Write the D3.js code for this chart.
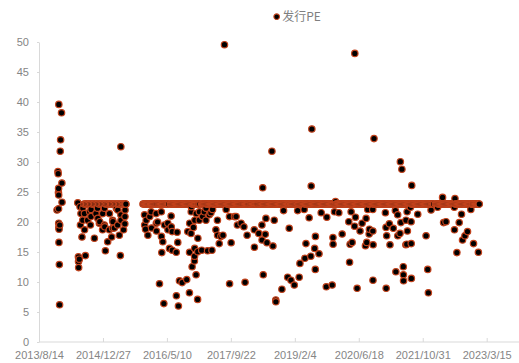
<!DOCTYPE html>
<html><head><meta charset="utf-8">
<script src="https://cdn.jsdelivr.net/npm/d3@7/dist/d3.min.js"></script>
<style>body{margin:0;background:#fff}svg{display:block}</style>
</head><body><svg id="c" width="519" height="363"></svg>
<script>
// ---- data ----
const seriesName = "发行PE";
const xTickLabels = ["2013/8/14","2014/12/27","2016/5/10","2017/9/22","2019/2/4","2020/6/18","2021/10/31","2023/3/15"];
const yTickValues = [0,5,10,15,20,25,30,35,40,45,50];
const capPE = 22.99;
// issues priced at the ~23x cap (month, days)
const capIssueDays = [
 ["2014-08",[1,11,21]],["2014-09",[1,11,22]],["2014-10",[2,13,23]],["2014-11",[3,13,24]],["2014-12",[4,15,25]],
 ["2015-01",[5,15,26]],["2015-02",[4,14,25]],["2015-03",[5,16,26]],["2015-04",[6,16,27]],["2015-05",[7,18,28]],["2015-06",[8,16,24]],
 ["2015-11",[5,12,19,26]],["2015-12",[3,10,17,24,30]],
 ["2016-01",[4,11,18,25]],["2016-02",[1,8,15,22]],["2016-03",[2,9,16,23,30]],["2016-04",[5,12,19,26]],["2016-05",[3,10,17,24]],["2016-06",[6,13,20,27]],
 ["2016-07",[4,11,18,25]],["2016-08",[1,8,15,22,29]],["2016-09",[5,12,19,26]],["2016-10",[3,10,17,24,31]],["2016-11",[7,14,21,28]],["2016-12",[5,12,19,26]],
 ["2017-01",[3,9,16,23]],["2017-02",[6,13,20,27]],["2017-03",[6,13,20,27]],["2017-04",[3,10,17,24]],["2017-05",[2,9,16,23,30]],["2017-06",[5,12,19,26]],
 ["2017-07",[3,10,17,24,31]],["2017-08",[7,14,21,28]],["2017-09",[4,11,18,25]],["2017-10",[2,9,16,23,30]],["2017-11",[6,13,20,27]],["2017-12",[4,11,18,25]],
 ["2018-01",[2,9,16,23,30]],["2018-02",[5,12,20,26]],["2018-03",[5,12,19,26]],["2018-04",[2,9,16,23]],["2018-05",[1,8,15,22,29]],["2018-06",[4,11,18,25]],
 ["2018-07",[2,9,16,23,30]],["2018-08",[6,13,20,27]],["2018-09",[3,10,17,24]],["2018-10",[1,8,15,22,29]],["2018-11",[5,12,19,26]],["2018-12",[3,10,17,24]],
 ["2019-01",[2,9,16,23,30]],["2019-02",[6,13,20,27]],["2019-03",[4,11,18,25]],["2019-04",[1,8,15,22,29]],["2019-05",[6,13,20,27]],["2019-06",[3,10,17,24]],
 ["2019-07",[1,8,15,22,29]],["2019-08",[5,12,19,26]],["2019-09",[2,9,16,23,30]],["2019-10",[7,14,21,28]],["2019-11",[4,11,18,25]],["2019-12",[2,9,16,23,30]],
 ["2020-01",[6,13,20,27]],["2020-02",[3,10,17,24]],["2020-03",[2,9,16,23,30]],["2020-04",[6,13,20,27]],["2020-05",[4,11,18,25]],["2020-06",[1,8,15,22,29]],
 ["2020-07",[6,13,20,27]],["2020-08",[3,10,17,24,31]],["2020-09",[7,14,21,28]],["2020-10",[5,12,19,26]],["2020-11",[2,9,16,23,30]],["2020-12",[7,14,21,28]],
 ["2021-01",[4,11,18,25]],["2021-02",[1,8,15,22]],["2021-03",[1,8,15,22,29]],["2021-04",[5,12,19,26]],["2021-05",[3,10,17,24,31]],["2021-06",[7,14,21,28]],
 ["2021-07",[5,12,19,26]],["2021-08",[2,9,16,23,30]],["2021-09",[6,13,20,27]],["2021-10",[4,11,18,25]],["2021-11",[1,8,15,22,29]],["2021-12",[6,13,20,27]],
 ["2022-01",[4,10,17,24]],["2022-02",[7,14,21,28]],["2022-03",[7,14,21,28]],["2022-04",[4,11,18,25]],["2022-05",[2,9,16,23,30]],["2022-06",[6,13,20,27]],
 ["2022-07",[4,11,18,25]],["2022-08",[1,8,15,22,29]],["2022-09",[5,12,19,26]],["2022-10",[3,10,17,24,31]],["2022-11",[7,14,21,28]],["2022-12",[5,12,19,26]],
 ["2023-01",[3,10,16]]
];
// other issues: [date, issue PE]
const issues = [
 ["2014-01-02",22.0],["2014-01-09",28.4],["2014-01-11",28.05],["2014-01-13",24.9],["2014-01-14",25.6],["2014-01-14",22.2],["2014-01-15",24.5],["2014-01-15",19.8],
 ["2014-01-16",39.6],["2014-01-16",19.1],["2014-01-17",16.6],["2014-01-18",18.8],["2014-01-20",12.9],["2014-01-22",6.2],["2014-01-23",19.5],["2014-01-27",31.8],
 ["2014-01-30",33.7],["2014-02-06",38.2],["2014-02-09",26.5],["2014-02-10",23.3],
 ["2014-06-13",23.2],["2014-06-18",14.2],["2014-06-19",13.4],["2014-06-20",12.4],["2014-06-25",13.8],["2014-07-01",22.55],["2014-07-04",19.5],
 ["2014-07-08",21.4],["2014-07-16",17.5],["2014-07-22",20.3],["2014-07-23",22.3],["2014-08-04",21.4],["2014-08-05",18.7],["2014-08-12",14.4],
 ["2014-08-29",20.3],["2014-09-14",21.7],["2014-09-20",19.5],["2014-09-24",20.9],["2014-09-25",22.1],["2014-10-21",17.3],["2014-11-02",21.4],
 ["2014-11-15",22.3],["2014-11-17",20.6],["2014-11-29",19.8],["2014-12-02",20.05],["2014-12-24",18.7],["2014-12-25",21.4],["2015-01-07",19.5],
 ["2015-01-08",22.3],["2015-01-10",19.2],["2015-01-15",15.2],["2015-02-02",16.7],["2015-02-15",18.7],["2015-02-16",21.4],["2015-03-05",17.5],
 ["2015-03-12",18.95],["2015-03-13",20.3],["2015-03-15",20.05],["2015-03-26",19.0],["2015-04-11",22.3],["2015-04-21",19.5],["2015-04-22",22.0],
 ["2015-05-04",17.8],["2015-05-12",14.4],["2015-05-16",32.55],["2015-05-16",21.2],["2015-05-17",20.3],["2015-06-06",18.7],["2015-06-16",19.7],
 ["2015-06-17",20.9],["2015-06-18",22.0],["2015-06-24",22.95],
 ["2015-11-17",21.2],["2015-11-18",19.5],["2015-11-25",18.8],["2015-11-30",20.3],["2015-12-13",17.8],["2015-12-28",20.9],["2016-01-08",21.7],
 ["2016-01-11",19.0],["2016-02-16",21.4],["2016-02-17",19.8],["2016-02-18",18.5],["2016-02-27",20.0],["2016-03-13",9.7],["2016-03-27",21.7],
 ["2016-03-28",17.6],["2016-03-31",14.9],["2016-04-08",16.7],["2016-04-16",6.4],["2016-04-21",19.5],["2016-05-17",19.8],["2016-05-18",18.7],
 ["2016-05-30",15.6],["2016-06-12",21.0],["2016-06-13",19.2],["2016-06-20",18.4],["2016-06-21",15.3],["2016-07-22",14.95],["2016-07-23",7.7],
 ["2016-07-29",18.3],["2016-08-03",16.6],["2016-08-08",6.0],["2016-08-16",10.2],["2016-09-06",9.9],["2016-10-12",10.4],["2016-10-20",18.4],
 ["2016-11-02",8.2],["2016-11-03",14.95],["2016-11-04",19.8],["2016-11-15",18.1],["2016-11-16",21.7],["2016-11-17",22.55],["2016-11-23",12.55],
 ["2016-12-03",19.1],["2016-12-11",13.5],["2016-12-12",14.3],["2016-12-13",15.6],["2016-12-14",20.3],["2016-12-24",11.2],["2016-12-25",21.4],
 ["2017-01-05",7.1],["2017-01-06",15.05],["2017-01-07",17.3],["2017-01-18",20.3],["2017-01-19",21.7],["2017-02-06",15.3],["2017-02-13",20.9],
 ["2017-02-26",21.7],["2017-03-11",20.3],["2017-03-12",22.3],["2017-03-24",15.2],["2017-04-06",21.2],["2017-04-19",21.55],["2017-04-27",15.3],
 ["2017-05-02",22.1],["2017-05-28",18.7],["2017-06-09",20.3],["2017-06-10",17.8],["2017-06-23",16.4],["2017-07-06",17.6],["2017-07-22",17.8],
 ["2017-08-03",49.55],["2017-08-16",22.1],["2017-09-11",20.9],["2017-09-12",9.7],["2017-09-24",16.55],["2017-10-20",20.9],["2017-11-02",20.9],
 ["2017-11-12",19.5],["2017-12-11",19.8],["2018-01-02",19.2],["2018-01-11",9.95],["2018-01-27",17.8],["2018-03-24",18.7],["2018-03-25",15.8],
 ["2018-04-28",18.1],["2018-05-23",19.5],["2018-05-24",17.0],["2018-05-29",25.7],["2018-06-02",11.2],["2018-06-18",17.95],["2018-06-23",20.6],
 ["2018-07-01",16.55],["2018-08-09",31.8],["2018-08-17",16.0],["2018-08-27",20.3],["2018-09-08",7.0],["2018-09-09",6.7],["2018-10-26",8.8],
 ["2018-11-08",21.9],["2018-12-10",10.8],["2018-12-22",18.95],["2019-01-05",10.3],["2019-01-31",9.5],["2019-02-26",21.9],["2019-03-10",10.8],
 ["2019-03-16",13.1],["2019-04-18",22.1],["2019-04-24",13.95],["2019-05-02",16.4],["2019-05-27",20.7],["2019-06-09",14.3],["2019-06-12",26.0],
 ["2019-06-17",35.5],["2019-07-09",15.6],["2019-07-14",12.1],["2019-07-15",17.6],["2019-08-12",14.7],["2019-08-29",21.55],["2019-10-08",9.2],
 ["2019-10-12",20.8],["2019-11-23",9.5],["2019-11-29",17.4],["2019-11-30",16.3],["2019-12-11",21.7],["2019-12-19",23.4],["2020-01-14",21.55],
 ["2020-02-09",18.0],["2020-04-01",20.05],["2020-04-07",13.3],["2020-04-11",16.3],["2020-04-19",21.7],["2020-04-27",16.6],["2020-05-16",19.3],
 ["2020-05-18",48.1],["2020-05-23",20.8],["2020-06-05",8.95],["2020-06-28",18.5],["2020-07-14",19.8],["2020-08-09",16.05],["2020-08-14",20.6],
 ["2020-08-19",16.6],["2020-08-27",22.1],["2020-09-07",18.0],["2020-09-09",18.8],["2020-10-05",22.1],["2020-10-06",18.5],["2020-10-07",10.3],
 ["2020-10-08",16.2],["2020-10-15",33.9],["2021-01-12",21.55],["2021-01-17",19.1],["2021-01-18",8.95],["2021-01-22",17.7],["2021-02-12",19.7],
 ["2021-02-17",16.2],["2021-03-15",18.95],["2021-03-31",21.9],["2021-04-04",11.7],["2021-04-18",21.2],["2021-04-19",17.7],["2021-05-06",18.1],
 ["2021-05-09",30.05],["2021-05-13",19.9],["2021-05-21",28.8],["2021-06-01",12.55],["2021-06-02",11.2],["2021-06-03",10.2],["2021-06-21",16.2],
 ["2021-06-22",20.3],["2021-06-28",16.3],["2021-07-01",21.7],["2021-07-03",18.5],["2021-07-27",22.45],["2021-08-01",20.05],["2021-08-02",16.4],
 ["2021-08-03",10.6],["2021-08-06",26.1],["2021-09-22",21.3],["2021-11-26",17.7],["2021-12-09",12.1],["2021-12-14",8.2],["2022-01-04",22.0],
 ["2022-02-24",22.45],["2022-04-04",24.1],["2022-04-12",19.9],["2022-05-01",20.05],["2022-07-05",22.45],["2022-07-06",18.7],["2022-07-10",23.9],
 ["2022-07-25",14.9],["2022-08-12",19.9],["2022-08-30",21.3],["2022-09-07",17.0],["2022-09-26",17.7],["2022-10-16",18.4],["2022-11-11",22.1],
 ["2022-11-24",22.95],["2022-12-02",16.4],["2023-01-08",22.95],["2023-01-09",14.95]
];

(function () {
// ---- build ----
const parseISO = d3.timeParse("%Y-%m-%d");
const parseTick = d3.timeParse("%Y/%m/%d");
const fmtTick = d3.timeFormat("%Y/%-m/%-d");
const points = issues.map(([d,v]) => ({date: parseISO(d), pe: v}));
capIssueDays.forEach(([m, days]) => days.forEach(dd => {
  points.push({date: parseISO(m + "-" + String(dd).padStart(2,"0")), pe: capPE});
}));
points.sort((a,b) => a.date - b.date);
const xTickDates = xTickLabels.map(parseTick);

const W = 519;
const pL = 39, pR = 486.7, pT = 42, pB = 342;
const svg = d3.select("#c");
const x = d3.scaleTime().domain([xTickDates[0], xTickDates[xTickDates.length-1]]).range([pL, pR]);
const y = d3.scaleLinear().domain([0, 50]).range([pB, pT]);

const axisColor = "#d9d9d9", textColor = "#858585";
const tickFont = "'Liberation Sans', Arial, sans-serif";

// y axis
const gy = svg.append("g").attr("transform", `translate(${pL},0)`)
  .call(d3.axisLeft(y).tickValues(yTickValues).tickSizeInner(2).tickSizeOuter(0).tickPadding(8));
gy.select(".domain").attr("stroke", axisColor);
gy.selectAll(".tick line").attr("stroke", axisColor);
gy.selectAll("text").attr("fill", textColor).style("font-family", tickFont).style("font-size", "11px");

// x axis
const gx = svg.append("g").attr("transform", `translate(0,${pB})`)
  .call(d3.axisBottom(x).tickValues(xTickDates).tickFormat(fmtTick).tickSizeInner(-4).tickSizeOuter(0).tickPadding(9));
gx.select(".domain").remove();
gx.append("line").attr("x1", pL).attr("x2", W).attr("y1", 0).attr("y2", 0).attr("stroke", axisColor);
gx.selectAll(".tick line").attr("stroke", axisColor);
gx.selectAll("text").attr("fill", textColor).style("font-family", tickFont).style("font-size", "11px");

// points
const markStroke = "#c2421c";
svg.append("g").selectAll("circle").data(points).join("circle")
  .attr("cx", d => x(d.date)).attr("cy", d => y(d.pe))
  .attr("r", 3.2).attr("fill", "#000").attr("stroke", markStroke).attr("stroke-width", 1.2);

// legend
const lg = svg.append("g").attr("transform", "translate(276.7,16.7)");
lg.append("circle").attr("r", 2.8).attr("fill", "#000").attr("stroke", markStroke).attr("stroke-width", 1.1);
lg.append("text").attr("x", 5.5).attr("y", 4.3).text(seriesName)
  .attr("fill", "#7f7f7f").style("font-family", "'Noto Sans CJK SC', sans-serif").style("font-size", "12px");
})();
</script></body></html>
